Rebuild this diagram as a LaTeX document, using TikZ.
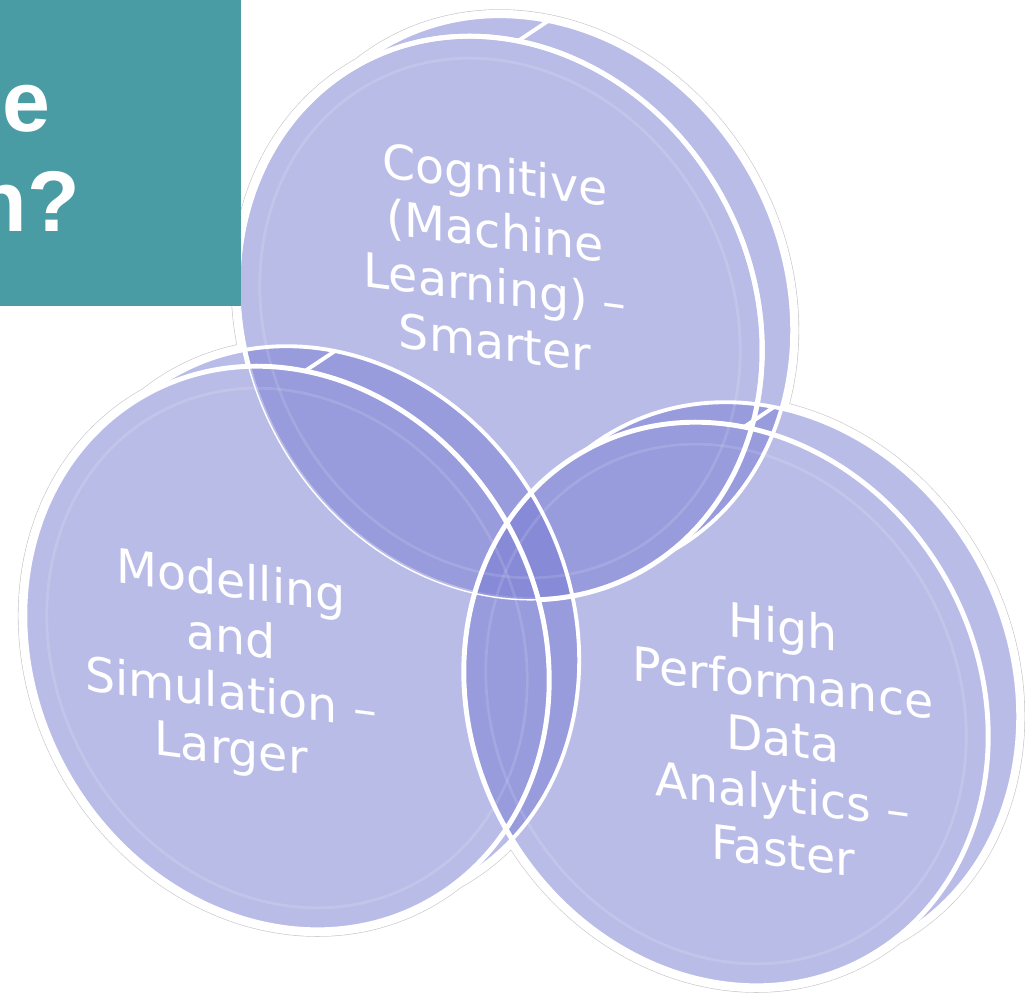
\documentclass[tikz,border=0pt]{standalone}
\usepackage{fontspec}
\usetikzlibrary{calc}
\newfontfamily\disctextfont{DejaVu Sans}
\newfontfamily\titlefont{Liberation Sans}
\definecolor{discblue}{RGB}{119,123,210}
\definecolor{titleteal}{RGB}{73,156,163}

\begin{document}
\begin{tikzpicture}[x=0.02cm, y=-0.02cm,
    discshape/.style={x radius=290, y radius=253, rotate=-61},
    innershape/.style={x radius=268, y radius=231, rotate=-61},
    halogrey/.style={draw=black!22, line width=7.9pt},
    halowhite/.style={draw=white, line width=7.2pt},
    discfill/.style={fill=discblue, fill opacity=0.5},
    discedge/.style={draw=white, line width=2.8pt},
    discthin/.style={draw=white, line width=0.8pt},
    discback/.style={draw=white, line width=2.2pt},
    discring/.style={draw=white, draw opacity=0.12, line width=1.6pt},
    disctxt/.style={text=white, align=center, yslant=-0.13, transform shape,
      font=\disctextfont\fontsize{27}{31.8}\selectfont},
    titletxt/.style={text=white, inner sep=0pt, font=\titlefont\bfseries\fontsize{49}{58}\selectfont}]
  \useasboundingbox (0,0) rectangle (1025,992);

  % front and back faces of the three discs
  \coordinate (ftop) at (500,318);
  \coordinate (btop) at (530,298);
  \coordinate (fleft) at (287,648);
  \coordinate (bleft) at (317,628);
  \coordinate (fright) at (726,704);
  \coordinate (bright) at (756,684);

  % soft outline round each disc
  \foreach \d in {top,left,right}
    \draw[halogrey] (f\d) ellipse[discshape] (b\d) ellipse[discshape];
  \foreach \d in {top,left,right}
    \draw[halowhite] (f\d) ellipse[discshape] (b\d) ellipse[discshape];
  \foreach \d in {top,left,right}
    \fill[white] (f\d) ellipse[discshape] (b\d) ellipse[discshape];

  % discs (the top one lies behind the others)
  \fill[discfill] (ftop) ellipse[discshape] (btop) ellipse[discshape];
  \draw[discedge] (ftop) ellipse[discshape];
  \foreach \d in {left,right}
    \fill[discfill] (f\d) ellipse[discshape] (b\d) ellipse[discshape];
  \foreach \d in {top,left,right}
    \draw[discring] (f\d) ellipse[innershape];

  % rims
  \foreach \d in {top,left,right}{
    \begin{scope}[even odd rule]
      \clip (-100,-100) rectangle (1125,1092) (f\d) ellipse[discshape];
      \draw[discback] (b\d) ellipse[discshape];
    \end{scope}
    \coordinate (s\d) at ($(f\d)+(18,-277)$);
    \coordinate (t\d) at ($(b\d)+(18,-277)$);
    \draw[discback] (s\d) -- (t\d);
  }

  % front edges
  \draw[discthin] (ftop) ellipse[discshape];
  \begin{scope}[even odd rule]
    \clip (-100,-100) rectangle (1125,1092) (fleft) ellipse[discshape];
    \draw[discedge] (ftop) ellipse[discshape];
  \end{scope}
  \foreach \d in {left,right}
    \draw[discedge] (f\d) ellipse[discshape];

  % labels
  \node[disctxt] (cogtxt) at (495,258) {Cognitive\\(Machine\\Learning) –\\Smarter};
  \node[disctxt] (modtxt) at (231,668) {Modelling\\and\\Simulation –\\Larger};
  \node[disctxt] (hpctxt) at (783,738) {High\\Performance\\Data\\Analytics –\\Faster};

  % title box, cut off at the left
  \fill[titleteal] (0,0) rectangle (241,306);
  \begin{scope}
    \clip (0,0) rectangle (241,306);
    \node[titletxt, anchor=base east] (ttle) at (51,131) {e};
    \node[titletxt, anchor=base east] (ttln) at (80,231) {n?};
  \end{scope}
\end{tikzpicture}
\end{document}
